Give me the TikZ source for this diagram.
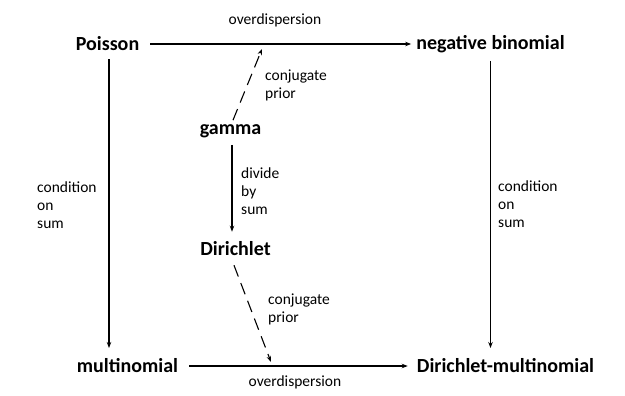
\documentclass[tikz,border=0pt]{standalone}
\usepackage{fontspec}
\setmainfont{Carlito}
\usetikzlibrary{arrows.meta}
\begin{document}
\begin{tikzpicture}[x=1pt,y=-1pt,
  dist/.style={font=\fontsize{20}{24}\selectfont\bfseries, inner sep=0pt, anchor=center},
  lbl/.style={font=\fontsize{15.5}{18}\selectfont, align=left, inner sep=0pt},
  arr/.style={line width=1.1pt, -{Stealth[length=6pt,width=4.5pt]}},
  darr/.style={arr, dash pattern=on 12pt off 7pt}]
\useasboundingbox (0,0) rectangle (625,396);
\fill[white] (0,0) rectangle (625,396);
\node[dist] (P)  at (107.5,44) {Poisson};
\node[dist] (NB) at (490.5,44) {negative binomial};
\node[dist] (G)  at (230.5,131) {gamma};
\node[dist] (D)  at (235.5,249) {Dirichlet};
\node[dist] (M)  at (127.5,366) {multinomial};
\node[dist] (DM) at (505.5,366) {Dirichlet-multinomial};
\coordinate (up) at (262,49);
\coordinate (lo) at (271,362);
% horizontal
\draw[arr, shorten <=11pt, shorten >=5pt] (P.east) -- (NB.west);
\draw[arr, shorten <=11pt, shorten >=9pt] (M.east) -- (DM.west);
% verticals
\draw[arr] ([xshift=1.5pt,yshift=-8pt]P.south) -- ([xshift=1.5pt]P.south |- 0,348);
\draw[arr] ([yshift=-8pt]NB.south) -- (NB.south |- 0,348);
\draw[arr] ([xshift=1.5pt,yshift=-7pt]G.south) -- ([xshift=1.5pt,yshift=10pt]G.south |- D.north);
% dashed
\draw[darr] ([xshift=2.5pt,yshift=4pt]G.north) -- (up);
\draw[darr] ([xshift=-1.5pt,yshift=-9pt]D.south) -- (lo);
% labels
\node[lbl, anchor=center] (l1) at (275,20) {overdispersion};
\node[lbl, anchor=center] (l2) at (295,382) {overdispersion};
\node[lbl, anchor=west] (l3) at (265,85) {conjugate\\prior};
\node[lbl, anchor=west] (l4) at (268,309) {conjugate\\prior};
\node[lbl, anchor=west] (l5) at (241,191) {divide\\by\\sum};
\node[lbl, anchor=west] (l6) at (37,205) {condition\\on\\sum};
\node[lbl, anchor=west] (l7) at (498,204) {condition\\on\\sum};
\end{tikzpicture}
\end{document}
